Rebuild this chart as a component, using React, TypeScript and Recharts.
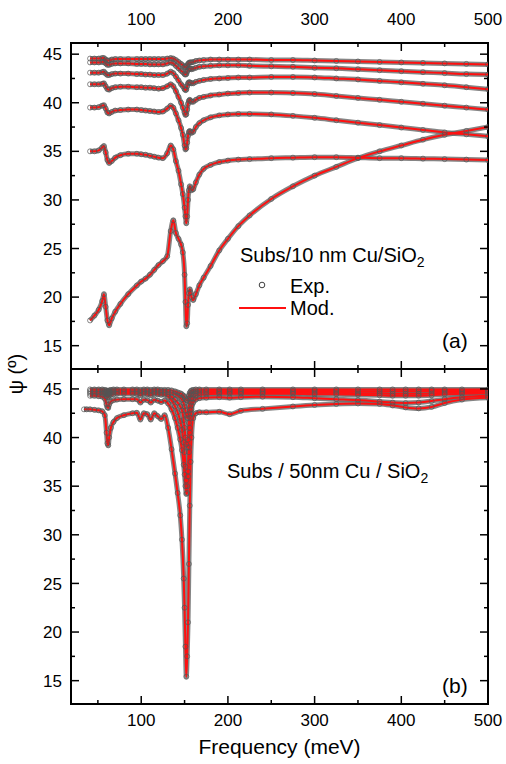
import React from "react";
import { ComposedChart, Line, XAxis, YAxis, ReferenceArea } from "recharts";

// frequency grids (meV)
const freqA = [41, 46, 51, 55, 57, 59, 61, 63, 66, 70, 76, 85, 95, 100, 105, 110, 115, 120, 125, 130, 134, 137, 140, 143, 146, 148, 150, 151, 152, 153, 154, 155, 156, 157, 158, 160, 163, 167, 172, 180, 190, 200, 212, 225, 250, 275, 300, 325, 350, 375, 400, 425, 450, 475, 500];
const freqB = [34, 37, 41, 46, 51, 55, 58, 60, 61, 62, 63, 65, 68, 72, 80, 90, 95, 99, 103, 107, 111, 115, 119, 123, 127, 131, 135, 139, 142, 145, 147, 149, 150, 151, 152, 153, 154, 155, 156, 157, 158, 160, 163, 167, 175, 190, 202, 215, 240, 275, 300, 325, 350, 375, 390, 405, 420, 435, 450, 470, 500];

// (a) Subs/10 nm Cu/SiO2, psi in degrees, top curve first
const a1 = [44.55, 44.55, 44.55, 44.6, 44.6, 44.45, 44.35, 44.35, 44.45, 44.5, 44.5, 44.5, 44.5, 44.5, 44.5, 44.5, 44.5, 44.5, 44.5, 44.55, 44.6, 44.55, 44.4, 44.2, 44.0, 43.85, 43.7, 43.65, 43.7, 43.85, 44.0, 44.1, 44.15, 44.15, 44.15, 44.2, 44.3, 44.35, 44.4, 44.45, 44.45, 44.45, 44.45, 44.45, 44.4, 44.4, 44.35, 44.3, 44.25, 44.2, 44.15, 44.1, 44.05, 44.0, 43.95];
const a2 = [44.15, 44.15, 44.15, 44.2, 44.2, 44.05, 43.9, 43.9, 44.0, 44.05, 44.05, 44.05, 44.0, 44.0, 44.0, 43.95, 43.95, 43.95, 43.95, 44.05, 44.15, 44.05, 43.8, 43.55, 43.3, 43.15, 42.95, 42.9, 42.95, 43.2, 43.4, 43.5, 43.5, 43.5, 43.45, 43.5, 43.6, 43.7, 43.75, 43.8, 43.85, 43.85, 43.85, 43.8, 43.75, 43.7, 43.6, 43.55, 43.45, 43.35, 43.25, 43.15, 43.05, 42.95, 42.9];
const a3 = [43.1, 43.1, 43.1, 43.15, 43.2, 43.0, 42.85, 42.85, 42.95, 43.0, 43.0, 43.0, 42.95, 42.95, 42.9, 42.9, 42.85, 42.85, 42.85, 43.0, 43.2, 43.05, 42.7, 42.3, 41.9, 41.7, 41.4, 41.3, 41.35, 41.7, 42.0, 42.1, 42.1, 42.05, 42.0, 42.0, 42.15, 42.25, 42.35, 42.45, 42.5, 42.55, 42.6, 42.6, 42.65, 42.65, 42.6, 42.5, 42.4, 42.25, 42.1, 41.95, 41.8, 41.6, 41.4];
const a4 = [41.9, 41.9, 41.9, 41.95, 42.0, 41.7, 41.4, 41.35, 41.5, 41.6, 41.65, 41.65, 41.6, 41.6, 41.55, 41.55, 41.5, 41.45, 41.5, 41.7, 41.9, 41.7, 41.2, 40.6, 40.0, 39.5, 39.0, 38.75, 38.8, 39.3, 39.9, 40.2, 40.3, 40.2, 40.1, 40.1, 40.3, 40.5, 40.6, 40.75, 40.85, 40.95, 41.0, 41.05, 41.05, 41.0, 40.9, 40.7, 40.5, 40.3, 40.1, 39.9, 39.7, 39.5, 39.3];
const a5 = [39.5, 39.5, 39.55, 39.7, 39.75, 39.4, 39.0, 38.9, 39.05, 39.2, 39.25, 39.3, 39.3, 39.25, 39.2, 39.15, 39.1, 39.05, 39.1, 39.4, 39.7, 39.5, 38.9, 38.2, 37.4, 36.7, 35.6, 35.2, 35.3, 35.9, 36.6, 37.0, 37.1, 37.0, 36.9, 37.0, 37.5, 37.9, 38.2, 38.5, 38.7, 38.8, 38.85, 38.85, 38.8, 38.65, 38.45, 38.2, 37.95, 37.7, 37.45, 37.2, 36.95, 36.75, 36.55];
const a6 = [35.0, 35.0, 35.1, 35.4, 35.55, 34.9, 34.1, 33.8, 34.0, 34.35, 34.6, 34.75, 34.75, 34.7, 34.65, 34.55, 34.45, 34.35, 34.3, 34.8, 35.6, 35.2, 34.0, 33.0, 31.6, 30.6, 29.2, 28.3, 27.6, 28.3, 30.0, 31.0, 31.4, 31.2, 31.0, 31.1, 31.8, 32.6, 33.2, 33.6, 33.9, 34.05, 34.15, 34.2, 34.3, 34.35, 34.4, 34.4, 34.35, 34.3, 34.3, 34.25, 34.2, 34.15, 34.1];
const a7 = [17.6, 18.1, 18.7, 19.6, 20.3, 19.0, 17.6, 17.1, 17.8, 18.5, 19.3, 20.3, 21.2, 21.6, 21.9, 22.3, 22.8, 23.3, 23.7, 24.2, 26.8, 27.9, 26.6, 26.0, 25.4, 24.6, 22.3, 19.5, 17.0, 17.3, 19.2, 20.4, 20.8, 20.5, 20.0, 19.7, 20.3, 21.2, 22.0, 23.2, 24.8, 26.0, 27.3, 28.4, 30.1, 31.4, 32.5, 33.4, 34.3, 35.0, 35.6, 36.2, 36.7, 37.1, 37.5];

// (b) Subs / 50nm Cu / SiO2
const b1 = [null, null, 44.95, 44.95, 44.95, 44.95, 44.9, 44.85, 44.8, 44.8, 44.85, 44.9, 44.95, 44.95, 44.95, 44.95, 44.95, 44.9, 44.95, 44.95, 44.9, 44.95, 44.95, 44.9, 44.9, 44.9, 44.85, 44.75, 44.65, 44.55, 44.45, 44.3, 44.15, 44.0, 43.85, 43.8, 44.0, 44.35, 44.6, 44.75, 44.85, 44.9, 44.95, 44.95, 44.95, 44.95, 44.95, 44.95, 44.95, 44.95, 44.95, 44.95, 44.95, 44.95, 44.95, 44.95, 44.95, 44.95, 44.95, 44.95, 44.95];
const b2 = [null, null, 44.8, 44.8, 44.8, 44.8, 44.75, 44.7, 44.65, 44.65, 44.7, 44.75, 44.8, 44.8, 44.8, 44.8, 44.8, 44.75, 44.8, 44.8, 44.75, 44.8, 44.8, 44.75, 44.75, 44.7, 44.6, 44.45, 44.3, 44.1, 43.9, 43.5, 43.2, 42.8, 42.3, 42.0, 42.4, 43.3, 44.0, 44.4, 44.55, 44.7, 44.75, 44.8, 44.8, 44.8, 44.8, 44.8, 44.8, 44.8, 44.8, 44.8, 44.75, 44.75, 44.75, 44.75, 44.75, 44.8, 44.8, 44.8, 44.85];
const b3 = [null, null, 44.65, 44.65, 44.65, 44.65, 44.6, 44.5, 44.45, 44.45, 44.55, 44.6, 44.65, 44.65, 44.65, 44.65, 44.65, 44.55, 44.65, 44.6, 44.55, 44.65, 44.6, 44.6, 44.6, 44.45, 44.2, 43.9, 43.6, 43.2, 42.8, 41.8, 41.0, 40.0, 39.3, 39.0, 39.8, 41.5, 42.8, 43.6, 44.0, 44.4, 44.55, 44.6, 44.65, 44.65, 44.65, 44.65, 44.65, 44.65, 44.6, 44.6, 44.55, 44.55, 44.5, 44.5, 44.5, 44.55, 44.6, 44.65, 44.7];
const b4 = [null, null, 44.5, 44.5, 44.5, 44.5, 44.45, 44.25, 44.15, 44.15, 44.3, 44.4, 44.45, 44.5, 44.5, 44.5, 44.5, 44.35, 44.5, 44.45, 44.35, 44.5, 44.45, 44.4, 44.4, 44.2, 43.8, 43.2, 42.6, 41.7, 40.8, 39.5, 38.5, 37.0, 35.6, 35.0, 36.5, 39.0, 41.0, 42.5, 43.3, 44.0, 44.3, 44.4, 44.45, 44.5, 44.5, 44.5, 44.5, 44.5, 44.45, 44.45, 44.4, 44.35, 44.3, 44.3, 44.3, 44.35, 44.45, 44.5, 44.55];
const b5 = [null, null, 44.3, 44.3, 44.25, 44.2, 44.0, 43.4, 43.1, 43.05, 43.4, 43.7, 43.85, 43.9, 43.95, 43.95, 43.95, 43.6, 43.9, 43.85, 43.6, 43.9, 43.8, 43.65, 43.8, 43.5, 42.9, 42.0, 41.0, 39.8, 38.7, 37.2, 36.2, 35.0, 34.2, 34.3, 36.0, 38.5, 40.5, 42.0, 42.9, 43.6, 43.9, 44.05, 44.1, 44.15, 44.1, 44.15, 44.2, 44.15, 44.05, 43.95, 43.85, 43.7, 43.6, 43.55, 43.6, 43.75, 43.95, 44.15, 44.3];
const b6 = [42.9, 42.9, 42.9, 42.85, 42.8, 42.7, 42.3, 40.5, 39.4, 39.2, 40.0, 41.0, 41.6, 42.0, 42.3, 42.5, 42.55, 41.85, 42.5, 42.4, 41.85, 42.5, 42.2, 41.9, 42.3, 41.0, 38.8, 36.3, 34.3, 32.0, 29.5, 25.5, 22.5, 18.5, 15.4, 17.5, 21.0, 27.0, 33.0, 37.5, 40.0, 42.0, 42.5, 42.6, 42.6, 42.65, 42.4, 42.75, 42.95, 43.2, 43.35, 43.45, 43.5, 43.45, 43.3, 43.1, 43.0, 43.15, 43.55, 43.9, 44.1];

const xTicks = [50, 100, 150, 200, 250, 300, 350, 400, 450, 500];
const yTicks = [15, 17.5, 20, 22.5, 25, 27.5, 30, 32.5, 35, 37.5, 40, 42.5, 45];

const W = 506;
const H = 764;
const PLOT_L = 71;
const PLOT_R = 488;
const AXIS_W = 40; // room kept for the y tick labels
const AXIS_H = 30;
const X_DOMAIN: [number, number] = [19, 500];
const FONT = "'Liberation Sans', Arial, Helvetica, sans-serif";
const TICK_FONT = 17;
const EXP_COLOR = "#666666";
const MOD_COLOR = "#ff1010";

type Row = Record<string, number | null>;

const buildRows = (freq: number[], series: (number | null)[][]): Row[] =>
  freq.map((f, i) => {
    const row: Row = { f };
    series.forEach((s, k) => {
      row[`s${k}`] = s[i];
    });
    return row;
  });

const rowsA = buildRows(freqA, [a1, a2, a3, a4, a5, a6, a7]);
const rowsB = buildRows(freqB, [b1, b2, b3, b4, b5, b6]);

// bottom-oriented axis: y arrives at the plot's lower edge
const XTick = (props: any) => {
  const { x, y, payload, top, labels } = props;
  const v = payload.value as number;
  const major = v % 100 === 0;
  const len = major ? 8 : 4;
  return (
    <g>
      <line x1={x} x2={x} y1={y} y2={y - len} stroke="#000" strokeWidth={1.5} />
      <line x1={x} x2={x} y1={top} y2={top + len} stroke="#000" strokeWidth={1.5} />
      {major && labels === "top" && (
        <text x={x} y={top - 18} textAnchor="middle" fontSize={TICK_FONT} fontFamily={FONT} fill="#000">
          {v}
        </text>
      )}
      {major && labels === "bottom" && (
        <text x={x} y={y + 22} textAnchor="middle" fontSize={TICK_FONT} fontFamily={FONT} fill="#000">
          {v}
        </text>
      )}
    </g>
  );
};

const YTick = (props: any) => {
  const { x, y, payload, right } = props;
  const v = payload.value as number;
  const major = v % 5 === 0;
  const len = major ? 8 : 4;
  return (
    <g>
      <line x1={x} x2={x + len} y1={y} y2={y} stroke="#000" strokeWidth={1.5} />
      <line x1={right} x2={right - len} y1={y} y2={y} stroke="#000" strokeWidth={1.5} />
      {major && (
        <text x={x - 9} y={y} dy="0.36em" textAnchor="end" fontSize={TICK_FONT} fontFamily={FONT} fill="#000">
          {v}
        </text>
      )}
    </g>
  );
};

const ExpDot = (p: any) =>
  Number.isFinite(p.cy) && p.value != null ? (
    <circle key={`d${p.index}`} cx={p.cx} cy={p.cy} r={2.5} fill="none" stroke="#555" strokeWidth={0.7} />
  ) : (
    <g key={`d${p.index}`} />
  );

interface PanelProps {
  rows: Row[];
  count: number;
  top: number;
  bottom: number;
  domain: [number, number];
  labels: "top" | "bottom";
}

const Panel = ({ rows, count, top, bottom, domain, labels }: PanelProps) => {
  const keys = Array.from({ length: count }, (_, k) => `s${k}`);
  return (
    <div style={{ position: "absolute", left: 0, top: 0 }}>
      <ComposedChart
        width={W}
        height={H}
        data={rows}
        margin={{ top, right: W - PLOT_R, bottom: H - bottom - AXIS_H, left: PLOT_L - AXIS_W }}
      >
        <XAxis
          dataKey="f"
          type="number"
          domain={X_DOMAIN}
          allowDataOverflow
          ticks={xTicks}
          interval={0}
          height={AXIS_H}
          axisLine={false}
          tickLine={false}
          tickSize={0}
          tickMargin={0}
          tick={<XTick top={top} labels={labels} />}
        />
        <YAxis
          type="number"
          domain={domain}
          allowDataOverflow
          ticks={yTicks}
          interval={0}
          width={AXIS_W}
          axisLine={false}
          tickLine={false}
          tickSize={0}
          tickMargin={0}
          tick={<YTick right={PLOT_R} />}
        />
        {keys.map((k) => (
          <Line
            key={`exp-${k}`}
            dataKey={k}
            type="monotone"
            stroke={EXP_COLOR}
            strokeWidth={5}
            strokeOpacity={0.8}
            dot={ExpDot}
            activeDot={false}
            isAnimationActive={false}
          />
        ))}
        {keys.map((k) => (
          <Line
            key={`mod-${k}`}
            dataKey={k}
            type="monotone"
            stroke={MOD_COLOR}
            strokeWidth={2}
            dot={false}
            activeDot={false}
            isAnimationActive={false}
          />
        ))}
        <ReferenceArea
          x1={X_DOMAIN[0]}
          x2={X_DOMAIN[1]}
          y1={domain[0]}
          y2={domain[1]}
          fill="none"
          stroke="#000"
          strokeWidth={2}
          ifOverflow="visible"
        />
      </ComposedChart>
    </div>
  );
};

export default function App() {
  return (
    <div style={{ position: "absolute", left: 0, top: 0, width: W, height: H, background: "#fff" }}>
      <Panel rows={rowsA} count={7} top={43} bottom={369} domain={[12.6, 46.15]} labels="top" />
      <Panel rows={rowsB} count={6} top={369} bottom={704} domain={[12.6, 47.05]} labels="bottom" />
      <svg
        width={W}
        height={H}
        style={{ position: "absolute", left: 0, top: 0, pointerEvents: "none" }}
        fontFamily={FONT}
      >
        <text x={240} y={262} fontSize={20}>
          Subs/10 nm Cu/SiO<tspan fontSize={14} dy={5}>2</tspan>
        </text>
        <circle cx={262} cy={285} r={2.8} fill="none" stroke="#3f3f3f" strokeWidth={1} />
        <text x={290} y={293} fontSize={20}>Exp.</text>
        <line x1={239} x2={286} y1={308} y2={308} stroke={MOD_COLOR} strokeWidth={2} />
        <text x={290} y={315} fontSize={20}>Mod.</text>
        <text x={442} y={348} fontSize={21}>(a)</text>

        <text x={227} y={478} fontSize={20}>
          Subs / 50nm Cu / SiO<tspan fontSize={14} dy={5}>2</tspan>
        </text>
        <text x={442} y={693} fontSize={21}>(b)</text>

        <text x={279.5} y={754} fontSize={21} textAnchor="middle">Frequency (meV)</text>
        <text x={23} y={374} fontSize={20} textAnchor="middle" transform="rotate(-90 23 374)">
          ψ (º)
        </text>
      </svg>
    </div>
  );
}
